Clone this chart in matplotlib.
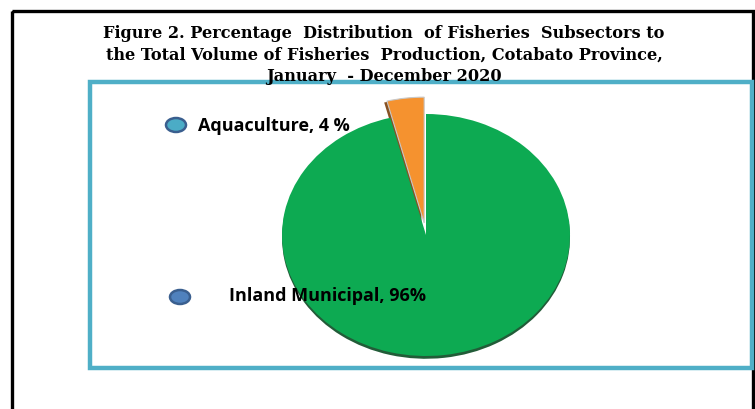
import matplotlib
matplotlib.use('Agg')
import matplotlib.pyplot as plt
import matplotlib.patheffects as pe
from matplotlib.patches import Rectangle, Ellipse

# data
subsectors = ['Inland Municipal', 'Aquaculture']
shares = [96, 4]
label_text = ['Inland Municipal, 96%', 'Aquaculture, 4 %']
slice_colors = ['#0DAA52', '#F5922F']
key_colors = ['#4F81BD', '#4BACC6']

title = ('Figure 2. Percentage  Distribution  of Fisheries  Subsectors to\n'
         'the Total Volume of Fisheries  Production, Cotabato Province,\n'
         'January  - December 2020')

W, H = 755, 410
fig = plt.figure(figsize=(W / 100, H / 100), dpi=100)

# background layer in pixel units for the frames and title
bg = fig.add_axes([0, 0, 1, 1])
bg.set_xlim(0, W)
bg.set_ylim(H, 0)
bg.axis('off')

bg.add_patch(Rectangle((11.5, 11.5), 741.5, 420, fill=False, ec='black', lw=2.4))
bg.add_patch(Rectangle((90, 83), 662, 286, fill=False, ec='#4FAFC7', lw=3.2))

bg.text(384, 55, title, ha='center', va='center', fontsize=11.6,
        fontweight='bold', family='DejaVu Serif', linespacing=1.38)

# pie, stretched into an ellipse
cx, cy, rx, ry = 426, 236, 144, 121
pw, ph = 2.5 * rx, 2.5 * ry
ax = fig.add_axes([(cx - pw / 2) / W, (H - cy - ph / 2) / H, pw / W, ph / H])
wedges, _ = ax.pie(shares, colors=slice_colors, startangle=90, counterclock=False,
                   explode=[0, 0.1], radius=1.0)
wedges[1].set_radius(1.04)
wedges[1].set_zorder(1)
wedges[0].set_zorder(2)
wedges[0].set_edgecolor('none')
wedges[1].set_edgecolor('#C8C8C8')
wedges[1].set_linewidth(0.8)
wedges[0].set_path_effects([pe.SimplePatchShadow(offset=(0, -2), shadow_rgbFace='#0A4A22', alpha=0.9),
                            pe.Normal()])
wedges[1].set_path_effects([pe.SimplePatchShadow(offset=(-2, -1), shadow_rgbFace='#7A3E0A', alpha=0.9),
                            pe.Normal()])
ax.set_aspect('auto')
ax.set_xlim(-1.25, 1.25)
ax.set_ylim(-1.25, 1.25)
ax.axis('off')

# overlay for data labels with legend keys
top = fig.add_axes([0, 0, 1, 1])
top.set_xlim(0, W)
top.set_ylim(H, 0)
top.axis('off')

key_pos = [(180, 298), (176, 126)]
text_pos = [(229, 296), (198, 126)]
for i in range(len(subsectors)):
    kx, ky = key_pos[i]
    top.add_patch(Ellipse((kx, ky), 20, 14, fc=key_colors[i], ec='#3A5F8F', lw=1.8))
    tx, ty = text_pos[i]
    top.text(tx, ty, label_text[i], ha='left', va='center', fontsize=13,
             fontweight='bold', family='Open Sans')

fig.savefig('out.png', dpi=100)
